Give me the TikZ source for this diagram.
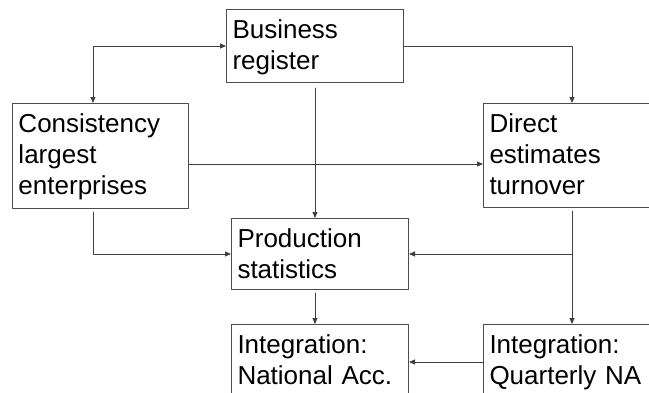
\documentclass[tikz,border=0pt]{standalone}
\usepackage{fontspec}
\setmainfont{Liberation Sans}
\usetikzlibrary{arrows.meta}
\begin{document}
\begin{tikzpicture}[x=1pt, y=-1pt, line cap=round, line join=round,
    box/.style={draw=black!70, line width=1pt, anchor=north west, align=left,
      inner xsep=6pt, inner ysep=0pt, text height=29pt,
      font=\fontsize{26}{31}\selectfont},
    link/.style={draw=black!75, line width=0.9pt, -{Triangle[length=6pt,width=5pt]}}]
  \clip (0, 0) rectangle (649, 392);
  % Top layer
  \node [box, text width=165pt, text depth=44pt] (breg) at (226, 9) {Business\\register};
  % Second layer
  \node [box, text width=164pt, text depth=76pt] (cons) at (12, 103) {Consistency\\largest\\enterprises};
  \node [box, text width=178pt, text depth=75pt] (dir) at (483, 103) {Direct\\estimates\\turnover};
  % Third layer
  \node [box, text width=165pt, text depth=42pt] (prod) at (231, 218) {Production\\statistics};
  % Bottom layer
  \node [box, text width=165pt, text depth=62pt] (intna) at (231, 324) {Integration:\\National Acc.};
  \node [box, text width=178pt, text depth=62pt] (intq) at (483, 324) {Integration:\\Quarterly NA};
  % Register arrows
  \draw [link, {Triangle[length=6pt,width=5pt]}-{Triangle[length=6pt,width=5pt]}] (breg.west) -| ([xshift=81pt]cons.north west);
  \draw [link] (breg.east) -| ([xshift=89pt]dir.north west);
  \draw [link, shorten <=5pt] (breg.south) -- (breg.south |- prod.north);
  % Second layer arrows
  \coordinate (cons-out) at ([yshift=-8pt]cons.east);
  \draw [link] (cons-out) -- (cons-out -| dir.west);
  \draw [link, shorten <=3pt] ([xshift=81pt]cons.south west) |- (prod.west);
  \draw [link, shorten <=3pt] ([xshift=89pt]dir.south west) -- ([xshift=89pt]intq.north west);
  \coordinate (dir-split) at ([xshift=89pt]dir.south west |- prod.east);
  \draw [link] (dir-split) -- (prod.east);
  % Bottom arrows
  \draw [link, shorten <=3pt] (breg.south |- prod.south) -- (breg.south |- intna.north);
  \coordinate (intq-out) at ([yshift=-38pt]intq.north west);
  \draw [link] (intq-out) -- (intq-out -| intna.east);
\end{tikzpicture}
\end{document}
